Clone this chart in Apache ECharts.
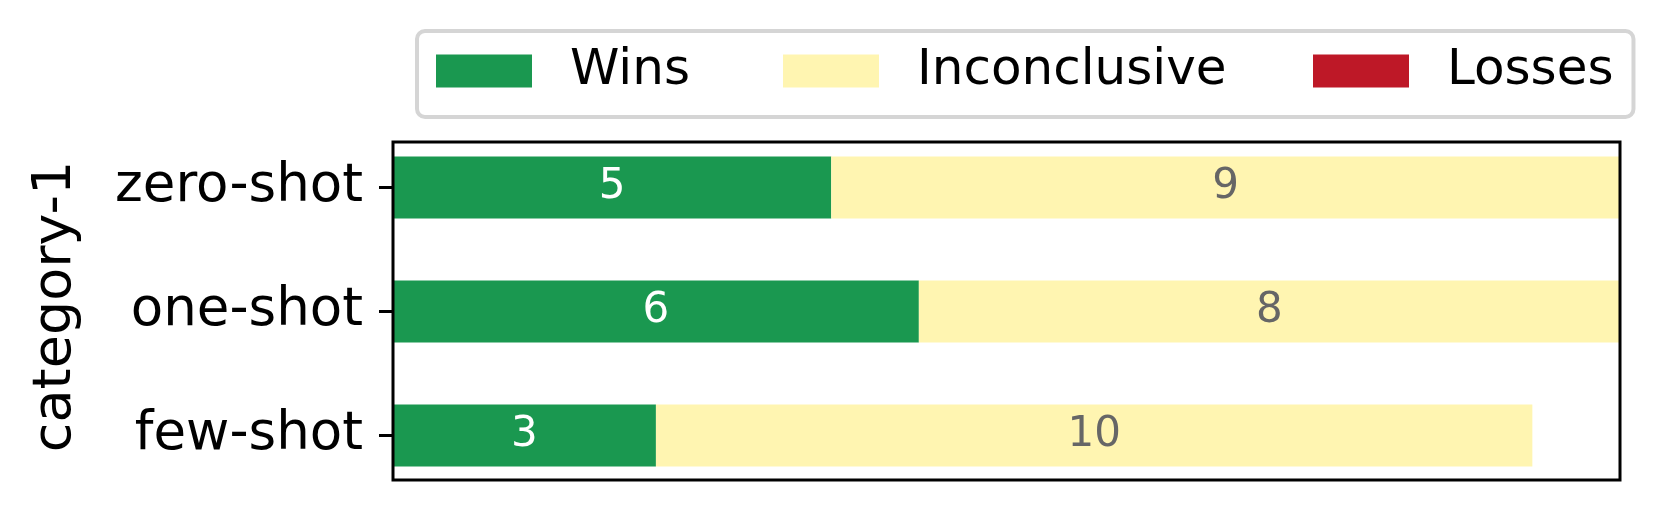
<!DOCTYPE html>
<html>
<head>
<meta charset="utf-8">
<script src="https://cdn.jsdelivr.net/npm/echarts@6/dist/echarts.min.js"></script>
<style>
    html, body { margin: 0; padding: 0; background: #fff; }
    #chart { width: 1659px; height: 513px; }
</style>
</head>
<body>
<div id="chart"></div>
<script>
// data
var categories = ['zero-shot', 'one-shot', 'few-shot'];
var wins = [5, 6, 3];
var inconclusive = [9, 8, 10];
var losses = [0, 0, 0];
var xMax = 14;

var FONT = 'DejaVu Sans';

function hideZero(p) {
    return p.value ? p.value : '';
}

var dom = document.getElementById('chart');
var myChart = echarts.init(dom);
var option = null;
option = {
    animation: false,
    textStyle: { fontFamily: FONT },
    legend: {
        left: 417,
        top: 31,
        padding: [12, 20, 18, 19],
        itemGap: 0,
        itemWidth: 96,
        itemHeight: 33,
        borderColor: '#d5d5d5',
        borderWidth: 4,
        borderRadius: 8,
        icon: 'rect',
        textStyle: {
            fontFamily: FONT,
            fontSize: 50,
            lineHeight: 50,
            color: '#000',
            padding: [6, 0, 0, 33]
        },
        data: [
            { name: 'Wins', textStyle: { width: 213 } },
            { name: 'Inconclusive', textStyle: { width: 396 } },
            { name: 'Losses', textStyle: { width: 158 } }
        ]
    },
    grid: [
        // bars
        { left: 393, top: 125.5, width: 1227, height: 372 },
        // frame
        { left: 393, top: 142, width: 1227, height: 338, show: true, z: 10,
          borderColor: '#000', borderWidth: 3, backgroundColor: 'transparent' }
    ],
    xAxis: [
        { type: 'value', gridIndex: 0, min: 0, max: xMax, show: false },
        { type: 'value', gridIndex: 1, min: 0, max: 1, show: false }
    ],
    yAxis: [
        {
            type: 'category',
            gridIndex: 0,
            inverse: true,
            data: categories,
            name: 'category-1',
            nameLocation: 'middle',
            nameRotate: 90,
            nameGap: 310,
            nameTextStyle: { fontFamily: FONT, fontSize: 54, color: '#000',
                             padding: [0, 0, 0, 10] },
            axisLine: { show: false },
            axisTick: { show: true, alignWithLabel: true, length: 14,
                        lineStyle: { color: '#000', width: 3 } },
            axisLabel: { fontFamily: FONT, fontSize: 53, color: '#000', margin: 30 },
            splitLine: { show: false }
        },
        { type: 'value', gridIndex: 1, min: 0, max: 1, show: false }
    ],
    series: [
        {
            name: 'Wins',
            type: 'bar',
            stack: 'total',
            barWidth: '50%',
            data: wins,
            itemStyle: { color: '#1a9850' },
            label: { show: true, position: 'inside', fontFamily: FONT, fontSize: 42,
                     color: '#fff', formatter: hideZero }
        },
        {
            name: 'Inconclusive',
            type: 'bar',
            stack: 'total',
            barWidth: '50%',
            data: inconclusive,
            itemStyle: { color: '#fff5b1' },
            label: { show: true, position: 'inside', fontFamily: FONT, fontSize: 42,
                     color: '#666', formatter: hideZero }
        },
        {
            name: 'Losses',
            type: 'bar',
            stack: 'total',
            barWidth: '50%',
            data: losses,
            itemStyle: { color: '#be1827' },
            label: { show: true, position: 'inside', fontFamily: FONT, fontSize: 42,
                     color: '#fff', formatter: hideZero }
        }
    ]
};

if (option && typeof option === 'object') {
    myChart.setOption(option);
}
</script>
</body>
</html>
